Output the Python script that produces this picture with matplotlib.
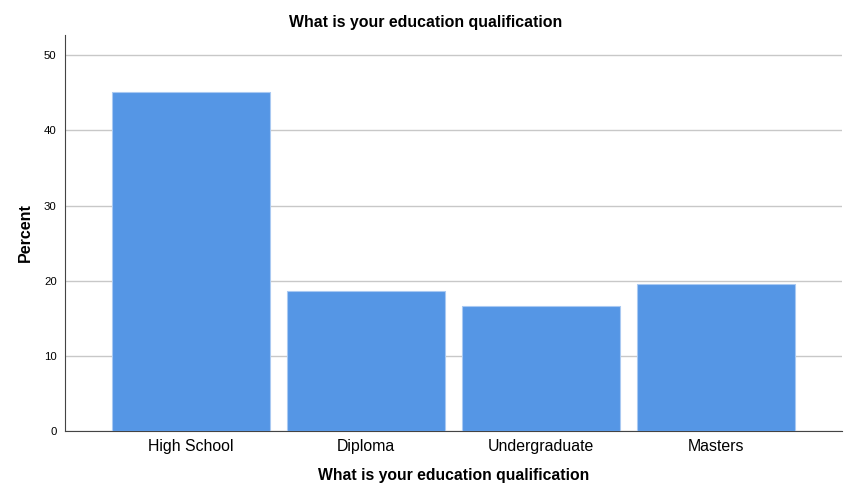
import matplotlib
matplotlib.use("Agg")
import matplotlib.pyplot as plt

categories = ["High School", "Diploma", "Undergraduate", "Masters"]
percent = [45.1, 18.6, 16.7, 19.6]
yticks = [0, 10, 20, 30, 40, 50]

plt.rcParams['font.family'] = ['Liberation Sans', 'DejaVu Sans']

fig = plt.figure(figsize=(8.51, 5.01), dpi=100)
ax = fig.add_axes([0.0764, 0.1397, 0.913, 0.7903])

x = range(len(categories))
ax.bar(x, percent, width=0.9, color='#5596e5', edgecolor='#a9c9f2', linewidth=0.8, zorder=3)

ax.set_xlim(-0.72, 3.72)
ax.set_ylim(0, 52.7)
ax.set_yticks(yticks)
ax.set_xticks(list(x))
ax.set_xticklabels(categories, fontsize=11.4)
ax.tick_params(axis='y', length=0, labelsize=8.2, pad=6)
ax.tick_params(axis='x', length=0, pad=6)
ax.yaxis.grid(True, color='#c8c8c8', linewidth=1, zorder=0)
ax.set_axisbelow(True)

for s in ['top', 'right']:
    ax.spines[s].set_visible(False)
for s in ['left', 'bottom']:
    ax.spines[s].set_color('#444444')
    ax.spines[s].set_linewidth(0.8)

# title is centred on the figure, not the axes
fig.text(0.5, 0.956, "What is your education qualification", ha='center', va='center',
         fontsize=11.4, fontweight='bold')
ax.set_xlabel("What is your education qualification", fontsize=11.3, fontweight='bold', labelpad=10)
ax.set_ylabel("Percent", fontsize=11.5, fontweight='bold', labelpad=8)

fig.savefig("out.png", dpi=100)
